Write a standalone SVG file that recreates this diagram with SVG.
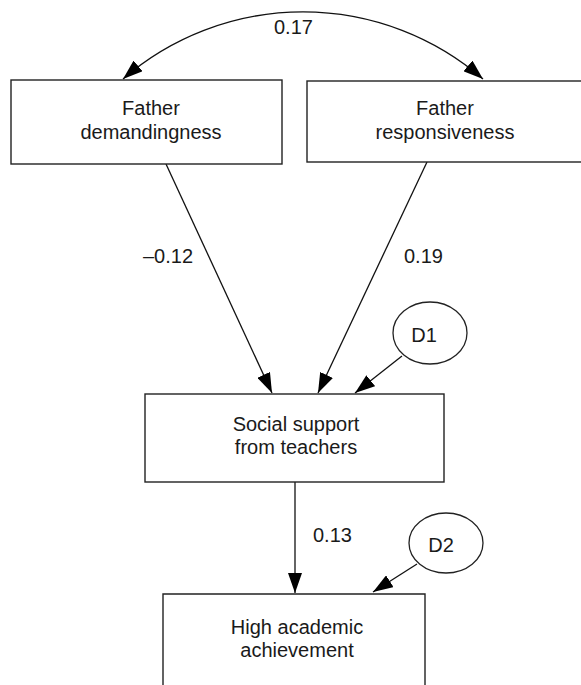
<svg xmlns="http://www.w3.org/2000/svg" width="581" height="685" viewBox="0 0 581 685">
<style>
.box{fill:#fff;stroke:#222;stroke-width:1.4}
.ell{fill:#fff;stroke:#222;stroke-width:1.3}
.t{font-family:"Liberation Sans",Arial,sans-serif;font-size:20px;fill:#1a1a1a;text-anchor:middle}
.lab{font-family:"Liberation Sans",Arial,sans-serif;font-size:20px;fill:#1a1a1a}
.c{fill:none;stroke:#111;stroke-width:1.3}
</style>
<defs>
<marker id="ah" markerWidth="20" markerHeight="14" refX="20" refY="7" orient="auto-start-reverse" markerUnits="userSpaceOnUse">
<path d="M0,0 L20,7 L0,14 z" fill="#000"/>
</marker>
</defs>
<rect width="581" height="685" fill="#fff"/>
<g id="connectors">
<path class="c" d="M123,79 A275,275 0 0 1 483,79" marker-start="url(#ah)" marker-end="url(#ah)"/>
<line class="c" x1="166" y1="164" x2="272" y2="393" marker-end="url(#ah)"/>
<line class="c" x1="427" y1="162" x2="318" y2="393" marker-end="url(#ah)"/>
<line class="c" x1="402" y1="356" x2="355" y2="393" marker-end="url(#ah)"/>
<line class="c" x1="295" y1="482" x2="295" y2="593" marker-end="url(#ah)"/>
<line class="c" x1="417" y1="564" x2="373" y2="592" marker-end="url(#ah)"/>
<text class="lab" x="274" y="34">0.17</text>
<text class="lab" x="143" y="263">–0.12</text>
<text class="lab" x="404" y="263">0.19</text>
<text class="lab" x="313" y="542">0.13</text>
</g>
<g id="father-demandingness">
<rect class="box" x="11" y="80" width="271" height="84"/>
<text class="t" x="151" y="115">Father</text>
<text class="t" x="151" y="139">demandingness</text>
</g>
<g id="father-responsiveness">
<rect class="box" x="307" y="81" width="280" height="81"/>
<text class="t" x="445" y="115">Father</text>
<text class="t" x="445" y="139">responsiveness</text>
</g>
<g id="social-support">
<rect class="box" x="145" y="394" width="299" height="88"/>
<text class="t" x="296" y="431">Social support</text>
<text class="t" x="296" y="454">from teachers</text>
</g>
<g id="d1">
<ellipse class="ell" cx="430" cy="333" rx="37" ry="31"/>
<text class="t" x="424" y="342">D1</text>
</g>
<g id="d2">
<ellipse class="ell" cx="446" cy="543" rx="37" ry="30"/>
<text class="t" x="441" y="552">D2</text>
</g>
<g id="high-achievement">
<path class="box" d="M163,690 L163,594 L425,594 L425,690"/>
<text class="t" x="297" y="634">High academic</text>
<text class="t" x="297" y="657">achievement</text>
</g>
</svg>
